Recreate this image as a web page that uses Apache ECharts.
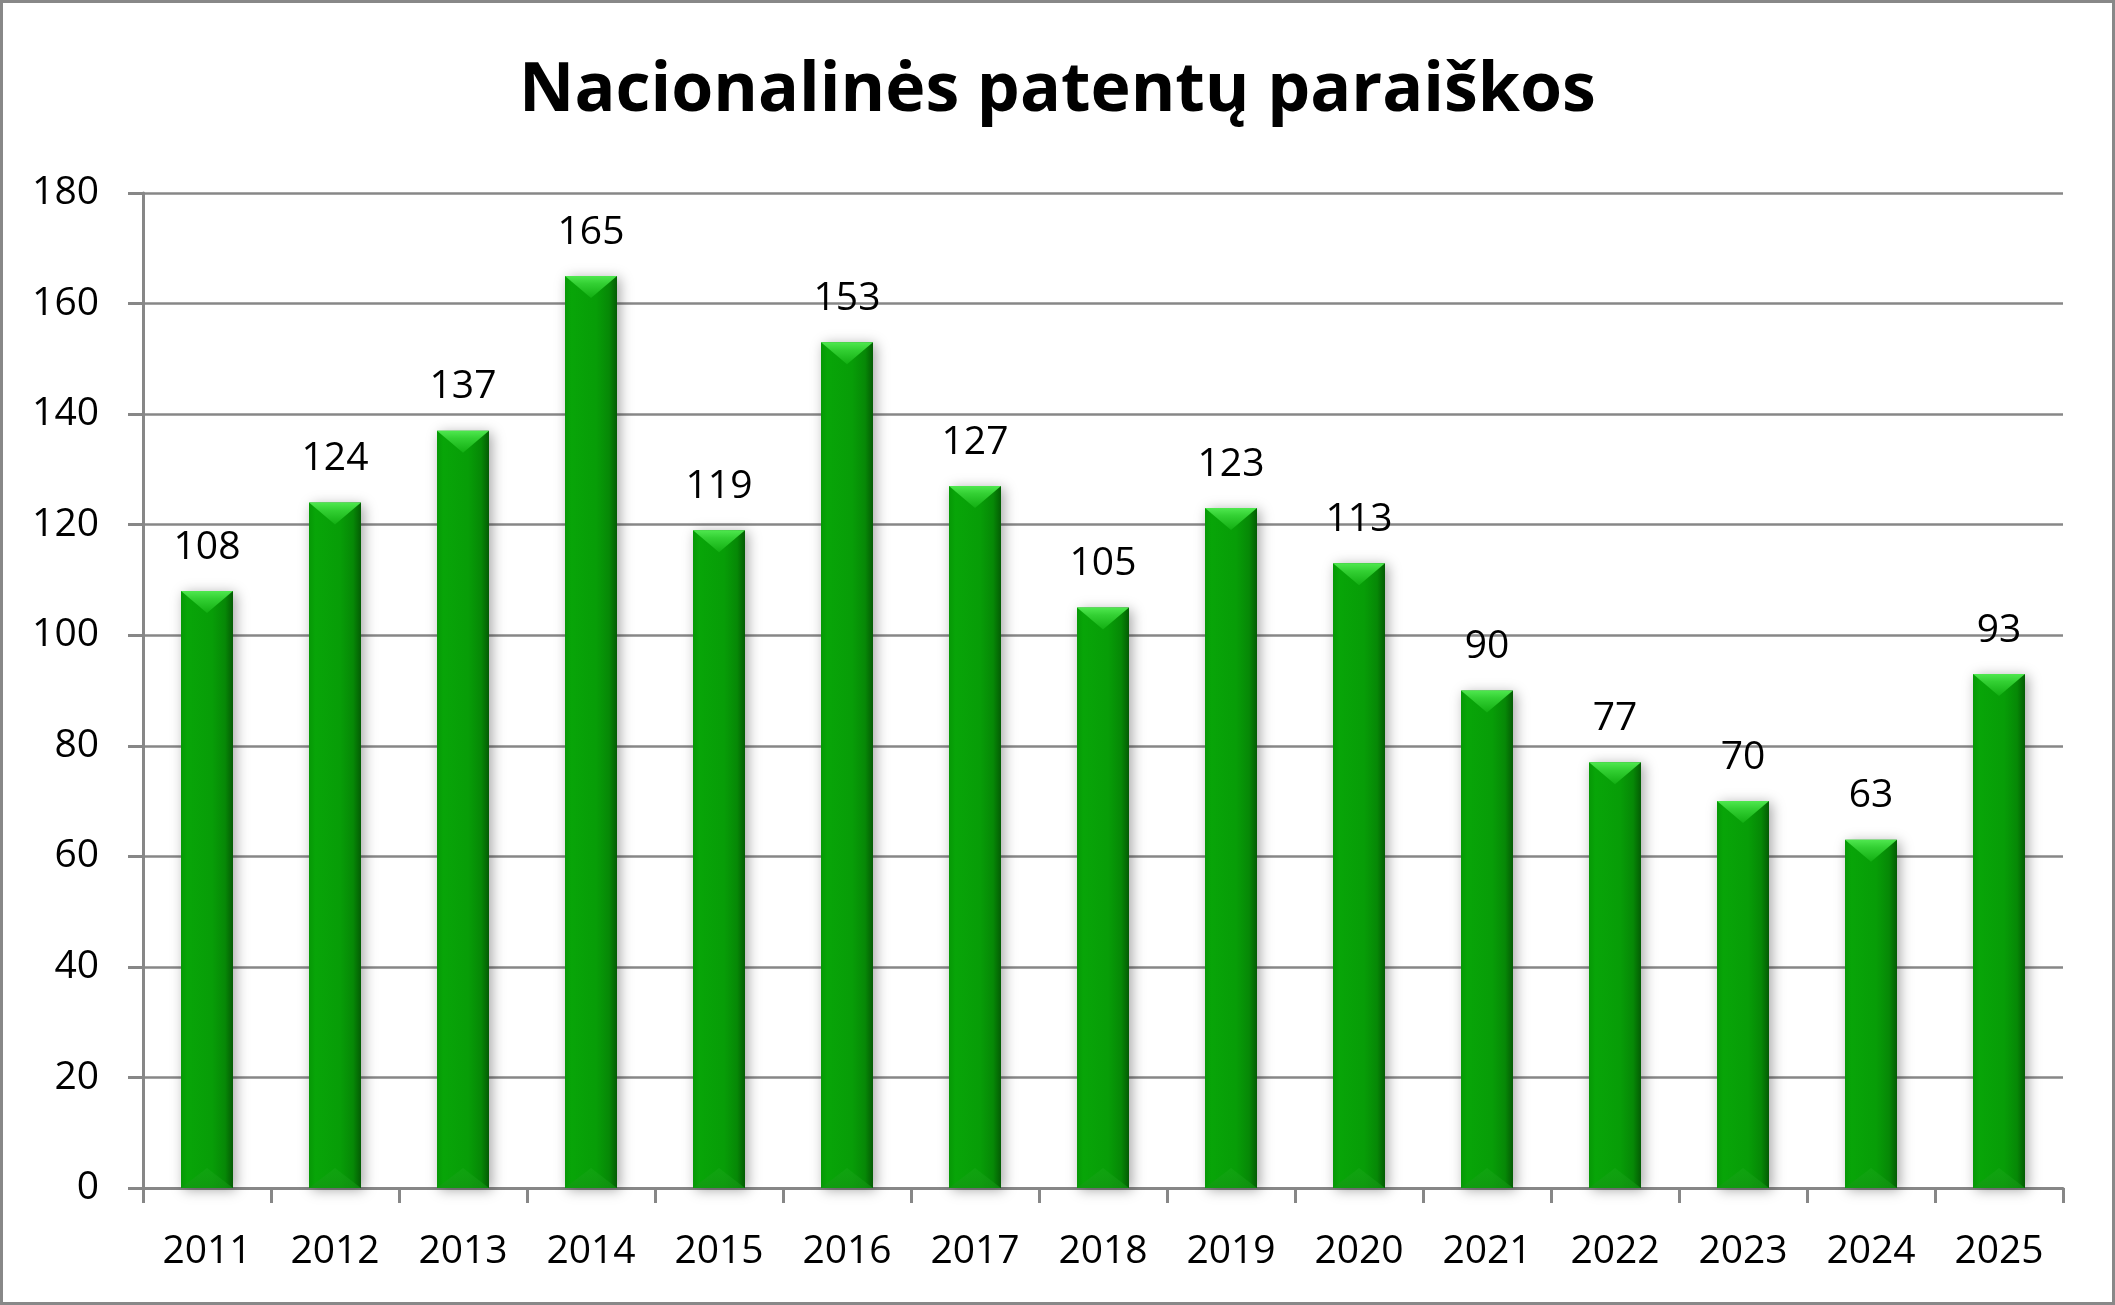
<!DOCTYPE html>
<html>
<head>
<meta charset="utf-8">
<script src="https://cdn.jsdelivr.net/npm/echarts@6/dist/echarts.min.js"></script>
<style>
html,body{margin:0;padding:0;background:#fff;}
#wrap{width:2115px;height:1305px;box-sizing:border-box;border:3px solid #888888;position:relative;}
#chart{position:absolute;left:-3px;top:-3px;width:2115px;height:1305px;}
</style>
</head>
<body>
<div id="wrap"><div id="chart"></div></div>
<script>
const titleText = 'Nacionalinės patentų paraiškos';
const years = ['2011','2012','2013','2014','2015','2016','2017','2018','2019','2020','2021','2022','2023','2024','2025'];
const applications = [108,124,137,165,119,153,127,105,123,113,90,77,70,63,93];
const yTicks = {min: 0, max: 180, interval: 20};

const chart = echarts.init(document.getElementById('chart'), null, {renderer: 'canvas'});
const axisGray = '#878787';
const font = 'Open Sans';
const BW = 52;

chart.setOption({
  backgroundColor: 'transparent',
  animation: false,
  title: {
    text: titleText,
    left: 'center',
    top: 53,
    textStyle: {fontFamily: font, fontWeight: 'bold', fontSize: 68, color: '#000'}
  },
  grid: {left: 143, right: 52, top: 193, bottom: 117, containLabel: false},
  xAxis: {
    type: 'category',
    data: years,
    boundaryGap: true,
    axisLine: {show: true, lineStyle: {color: axisGray, width: 3}},
    axisTick: {show: true, alignWithLabel: false, length: 15, lineStyle: {color: axisGray, width: 3}},
    axisLabel: {fontFamily: font, fontSize: 39, color: '#000', margin: 44}
  },
  yAxis: {
    type: 'value',
    min: yTicks.min, max: yTicks.max, interval: yTicks.interval,
    axisLine: {show: true, lineStyle: {color: axisGray, width: 3}},
    axisTick: {show: true, length: 15, lineStyle: {color: axisGray, width: 3}},
    splitLine: {show: true, lineStyle: {color: axisGray, width: 2.5}},
    axisLabel: {fontFamily: font, fontSize: 39, color: '#000', margin: 44}
  },
  series: [
    {
      type: 'bar',
      data: applications,
      barWidth: BW,
      itemStyle: {
        color: new echarts.graphic.LinearGradient(0, 0, 1, 0, [
          {offset: 0, color: '#069806'},
          {offset: 0.12, color: '#08a508'},
          {offset: 0.6, color: '#079d07'},
          {offset: 0.85, color: '#068806'},
          {offset: 1, color: '#045c04'}
        ]),
        shadowColor: 'rgba(0,0,0,0.35)',
        shadowBlur: 12,
        shadowOffsetX: 3,
        shadowOffsetY: 2
      },
      label: {
        show: true, position: 'top', distance: 24,
        fontFamily: font, fontSize: 39, color: '#000'
      },
      z: 2
    },
    {
      type: 'pictorialBar',
      data: applications,
      symbol: 'path://M0,0 L52,0 L26,22 Z',
      symbolSize: [BW, 22],
      symbolPosition: 'end',
      itemStyle: {
        color: new echarts.graphic.LinearGradient(0, 0, 0, 1, [
          {offset: 0, color: '#4fe84f'},
          {offset: 0.35, color: '#33d033'},
          {offset: 1, color: '#12ae12'}
        ])
      },
      silent: true,
      z: 3
    },
    {
      type: 'pictorialBar',
      data: applications,
      symbol: 'path://M0,22 L52,22 L26,0 Z',
      symbolSize: [BW, 20],
      symbolPosition: 'start',
      itemStyle: {
        color: new echarts.graphic.LinearGradient(0, 0, 0, 1, [
          {offset: 0, color: 'rgba(30,170,30,0.35)'},
          {offset: 1, color: 'rgba(20,150,20,0.6)'}
        ])
      },
      silent: true,
      z: 3
    }
  ]
});
</script>
</body>
</html>
